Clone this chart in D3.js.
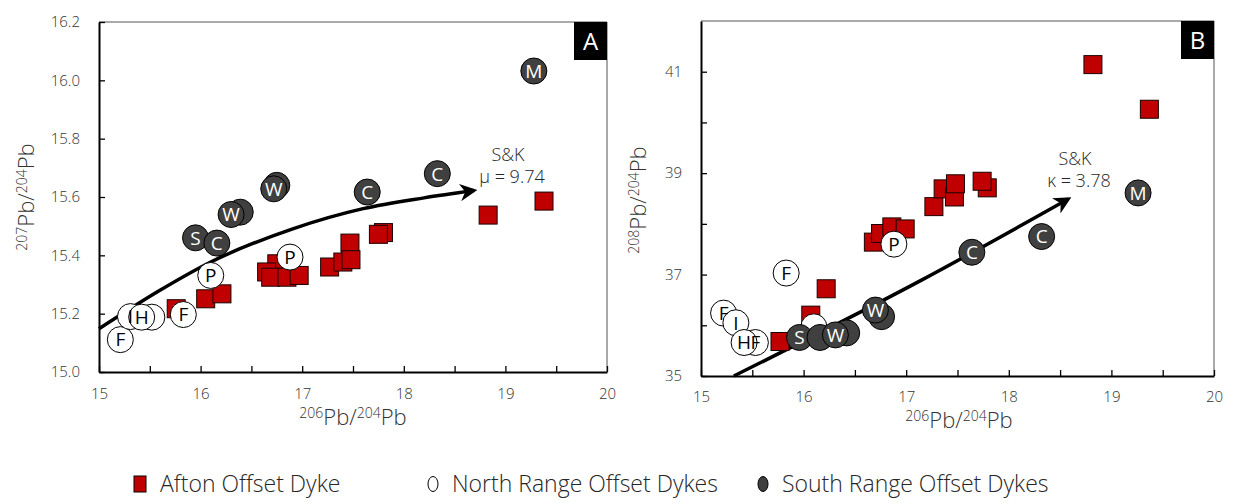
<!DOCTYPE html>
<html>
<head>
<meta charset="utf-8">
<script src="https://cdn.jsdelivr.net/npm/d3@7"></script>
<style>
  body { margin: 0; background: #fff; }
  svg text { font-family: "Open Sans", "Noto Sans", sans-serif; font-weight: 300; }
</style>
</head>
<body>
<svg id="chart" width="1233" height="504"></svg>
<script>
// ---- Panel A: 207Pb/204Pb vs 206Pb/204Pb ----
const aftonA = [
  [15.76, 15.217], [16.05, 15.251], [16.21, 15.268],
  [16.75, 15.371], [16.65, 15.343], [16.69, 15.325], [16.85, 15.325], [16.97, 15.331],
  [17.27, 15.360], [17.40, 15.377], [17.47, 15.442], [17.48, 15.385],
  [17.80, 15.478], [17.75, 15.472], [18.83, 15.538], [19.38, 15.586]
];
const northA = [
  [15.52, 15.188, ""], [15.21, 15.111, "F"], [15.31, 15.190, "I"], [15.42, 15.188, "H"],
  [15.83, 15.197, "F"], [16.10, 15.331, "P"], [16.88, 15.394, "P"]
];
const southA = [
  [15.95, 15.460, "S"], [16.16, 15.442, "C"], [16.39, 15.548, ""], [16.30, 15.540, "W"],
  [16.75, 15.640, ""], [16.72, 15.628, "W"], [17.64, 15.617, "C"], [18.33, 15.680, "C"],
  [19.28, 16.032, "M"]
];
const curveA = [
  [15.0, 15.148], [15.6, 15.280], [16.1, 15.377], [16.9, 15.490],
  [17.6, 15.560], [18.2, 15.597], [18.69, 15.622]
];
const xTicksA = [15, 16, 17, 18, 19, 20];
const yTicksA = [15.0, 15.2, 15.4, 15.6, 15.8, 16.0, 16.2];

// ---- Panel B: 208Pb/204Pb vs 206Pb/204Pb ----
const aftonB = [
  [15.77, 35.68], [16.07, 36.20], [16.22, 36.72],
  [16.68, 37.64], [16.75, 37.81], [16.86, 37.94], [16.99, 37.90],
  [17.27, 38.34], [17.36, 38.69], [17.47, 38.53], [17.48, 38.79],
  [17.79, 38.71], [17.74, 38.84], [18.82, 41.14], [19.37, 40.26]
];
const northB = [
  [15.22, 36.24, "F"], [15.34, 36.05, "I"], [15.53, 35.66, "F"], [15.42, 35.66, "H"],
  [15.83, 37.03, "F"], [16.10, 35.97, ""], [16.88, 37.60, "P"]
];
const southB = [
  [15.96, 35.76, "S"], [16.16, 35.76, ""], [16.42, 35.85, ""], [16.31, 35.81, "W"],
  [16.76, 36.17, ""], [16.70, 36.30, "W"], [17.64, 37.44, "C"], [18.32, 37.75, "C"],
  [19.26, 38.61, "M"]
];
const curveB = [[15.32, 35.0], [17.14, 36.88], [18.58, 38.49]];
const xTicksB = [15, 16, 17, 18, 19, 20];
const yTicksB = [35, 37, 39, 41];
const yMinorB = [35, 36, 37, 38, 39, 40, 41];

const svg = d3.select("#chart");
const defs = svg.append("defs");
defs.append("marker")
  .attr("id", "arrow").attr("viewBox", "0 0 10 10")
  .attr("refX", 8).attr("refY", 5)
  .attr("markerWidth", 5).attr("markerHeight", 5)
  .attr("markerUnits", "strokeWidth")
  .attr("orient", "auto")
  .append("path").attr("d", "M0,0 L10,5 L0,10 L3,5 Z").attr("fill", "#000");

const RED = "#c00000", DARK = "#404040", TXT = "#333";

function isoLabel(sel, a, b) {
  sel.append("tspan").attr("font-size", 14).attr("dy", -7).text(a);
  sel.append("tspan").attr("font-size", 22).attr("dy", 7).text("Pb/");
  sel.append("tspan").attr("font-size", 14).attr("dy", -7).text(b);
  sel.append("tspan").attr("font-size", 22).attr("dy", 7).text("Pb");
}

function panel(cfg) {
  const x = d3.scaleLinear().domain(cfg.xDom).range([cfg.left, cfg.right]);
  const y = d3.scaleLinear().domain(cfg.yDom).range([cfg.bottom, cfg.top]);
  const g = svg.append("g");

  // frame: thin top/right, heavier left/bottom
  g.append("line").attr("x1", cfg.left).attr("x2", cfg.right).attr("y1", cfg.top).attr("y2", cfg.top)
    .attr("stroke", "#555").attr("stroke-width", 1);
  g.append("line").attr("x1", cfg.right).attr("x2", cfg.right).attr("y1", cfg.top).attr("y2", cfg.bottom)
    .attr("stroke", "#555").attr("stroke-width", 1);

  // x axis with inward ticks every 0.5
  const xMinor = d3.range(cfg.xDom[0], cfg.xDom[1] + 0.01, 0.5);
  const xAx = g.append("g").attr("transform", `translate(0,${cfg.bottom})`)
    .call(d3.axisBottom(x).tickValues(xMinor).tickSize(-6).tickSizeOuter(0)
      .tickFormat(d => cfg.xTicks.includes(d) ? d3.format("d")(d) : ""));
  xAx.select(".domain").attr("stroke", "#000").attr("stroke-width", 2);
  xAx.selectAll(".tick line").attr("stroke", "#000").attr("stroke-width", 1.3);
  xAx.selectAll(".tick text").attr("font-size", 15).attr("fill", TXT).attr("y", cfg.xTickY).attr("dy", "0.35em");

  // y axis with inward ticks
  const yAx = g.append("g").attr("transform", `translate(${cfg.left},0)`)
    .call(d3.axisLeft(y).tickValues(cfg.yMinor).tickSize(-6).tickSizeOuter(0)
      .tickFormat(d => cfg.yTicks.includes(d) ? cfg.yFmt(d) : ""));
  yAx.select(".domain").attr("stroke", "#000").attr("stroke-width", 2);
  yAx.selectAll(".tick line").attr("stroke", "#000").attr("stroke-width", 1.3);
  yAx.selectAll(".tick text").attr("font-size", 15).attr("fill", TXT).attr("x", -19);

  // axis titles
  const xt = g.append("text").attr("x", cfg.xTitle[0]).attr("y", cfg.xTitle[1])
    .attr("text-anchor", "middle").attr("fill", TXT);
  isoLabel(xt, "206", "204");
  const yt = g.append("text").attr("transform", `translate(${cfg.yTitle[0]},${cfg.yTitle[1]}) rotate(-90)`)
    .attr("text-anchor", "middle").attr("fill", TXT);
  isoLabel(yt, cfg.yIso, "204");

  // growth curve with arrow
  const line = d3.line().x(d => x(d[0])).y(d => y(d[1])).curve(d3.curveMonotoneX);
  g.append("path").datum(cfg.curve).attr("d", line)
    .attr("fill", "none").attr("stroke", "#000").attr("stroke-width", 3.5)
    .attr("marker-end", "url(#arrow)");
  const cl = g.append("text").attr("text-anchor", "middle").attr("fill", "#262626").attr("font-size", 18);
  cl.append("tspan").attr("x", cfg.curveLab[0]).attr("y", cfg.curveLab[1]).text("S&K");
  cl.append("tspan").attr("x", cfg.curveLab[0] + 4).attr("y", cfg.curveLab[1] + 22).text(cfg.curveText);

  // Afton squares
  g.selectAll("rect.afton").data(cfg.afton).join("rect").attr("class", "afton")
    .attr("x", d => x(d[0]) - 9).attr("y", d => y(d[1]) - 9)
    .attr("width", 18).attr("height", 18)
    .attr("fill", RED).attr("stroke", "#1a0000").attr("stroke-width", 1);

  // circles first, then their letters on top
  const groups = [
    { data: cfg.north, fill: "#fff", textFill: "#000" },
    { data: cfg.south, fill: DARK, textFill: "#fff" }
  ];
  groups.forEach(s => {
    g.append("g").selectAll("circle").data(s.data).join("circle")
      .attr("cx", d => x(d[0])).attr("cy", d => y(d[1])).attr("r", 13)
      .attr("fill", s.fill).attr("stroke", "#000").attr("stroke-width", 1);
  });
  groups.forEach(s => {
    g.append("g").selectAll("text").data(s.data.filter(d => d[2])).join("text")
      .attr("x", d => x(d[0])).attr("y", d => y(d[1])).attr("dy", "0.36em")
      .attr("text-anchor", "middle").attr("font-size", 19).style("font-weight", 400)
      .attr("fill", s.textFill).text(d => d[2]);
  });

  // panel tag
  g.append("rect").attr("x", cfg.right - 33).attr("y", cfg.top).attr("width", 33).attr("height", 38)
    .attr("fill", "#000");
  g.append("text").attr("x", cfg.right - 16.5).attr("y", cfg.top + 28).attr("text-anchor", "middle")
    .attr("fill", "#fff").attr("font-size", 24).style("font-weight", 400).text(cfg.tag);
}

panel({
  xDom: [15, 20], yDom: [15.0, 16.2], left: 99, right: 607, top: 22, bottom: 372,
  xTicks: xTicksA, yTicks: yTicksA, yMinor: yTicksA, yFmt: d3.format(".1f"),
  xTickY: 22,
  afton: aftonA, north: northA, south: southA, curve: curveA,
  curveLab: [508, 161], curveText: "\u03bc = 9.74",
  xTitle: [353, 425], yTitle: [34, 197], yIso: "207", tag: "A"
});

panel({
  xDom: [15, 20], yDom: [35, 42], left: 701, right: 1214, top: 21, bottom: 376,
  xTicks: xTicksB, yTicks: yTicksB, yMinor: yMinorB, yFmt: d3.format("d"),
  xTickY: 21,
  afton: aftonB, north: northB, south: southB, curve: curveB,
  curveLab: [1075, 165], curveText: "\u03ba = 3.78",
  xTitle: [959, 428], yTitle: [646, 200], yIso: "208", tag: "B"
});

// legend
const legendItems = [
  { label: "Afton Offset Dyke", shape: "rect", fill: RED, x: 134 },
  { label: "North Range Offset Dykes", shape: "ellipse", fill: "#fff", x: 428 },
  { label: "South Range Offset Dykes", shape: "ellipse", fill: DARK, x: 758 }
];
const lg = svg.append("g").selectAll("g").data(legendItems).join("g")
  .attr("transform", d => `translate(${d.x},484)`);
lg.each(function(d) {
  const s = d3.select(this);
  if (d.shape === "rect") {
    s.append("rect").attr("x", 0).attr("y", -8).attr("width", 12).attr("height", 16)
      .attr("fill", d.fill).attr("stroke", "#000").attr("stroke-width", 1);
  } else {
    s.append("ellipse").attr("cx", 5).attr("cy", 0).attr("rx", 5).attr("ry", 7.5)
      .attr("fill", d.fill).attr("stroke", "#000").attr("stroke-width", 1);
  }
  s.append("text").attr("x", d.shape === "rect" ? 26 : 24).attr("y", 8)
    .attr("font-size", 23).attr("fill", "#262626").text(d.label);
});
</script>
</body>
</html>
